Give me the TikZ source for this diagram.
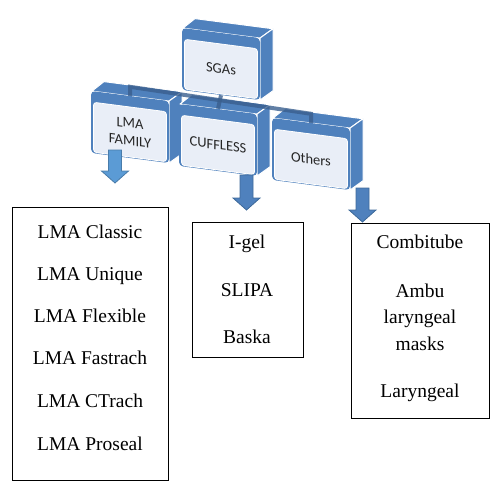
\documentclass[tikz,border=0pt]{standalone}
\usepackage{fontspec}
\setmainfont{Liberation Serif}
\newfontfamily\cubefont{Carlito}
\usetikzlibrary{calc}

\definecolor{cubeblue}{HTML}{4F81BD}
\definecolor{facelight}{HTML}{E9EEF7}
\definecolor{barblue}{HTML}{3A5F8E}
\definecolor{arrowlight}{HTML}{5B9BD5}
\definecolor{arrowedge}{HTML}{3E6A9A}

\tikzset{
  cubefront/.style={fill=cubeblue, rounded corners=4pt, minimum width=78pt,
    minimum height=62pt, inner sep=0pt, transform shape},
  cubeface/.style={fill=facelight, draw=white, line width=0.8pt, rounded corners=3pt,
    minimum width=73pt, minimum height=50pt, inner sep=0pt, align=center,
    text=black!85, font=\cubefont\fontsize{14.5}{17.5}\selectfont, transform shape},
  cubetop/.style={fill=cubeblue, draw=white, line width=1pt, line join=round},
  hierbar/.style={draw=barblue, line width=4pt, opacity=0.8},
  listbox/.style={draw=black, line width=0.8pt, inner sep=0pt},
  listitem/.style={font=\fontsize{19.5}{26.5}\selectfont, inner sep=0pt, anchor=base},
  arrowdark/.style={fill=cubeblue, draw=arrowedge, line width=0.8pt},
  arrowpale/.style={fill=arrowlight, draw=arrowlight!80!black, line width=0.8pt}
}

% one tilted box of the hierarchy
\newcommand{\sgacube}[3]{%
  \begin{scope}[shift={#2}, yslant=-0.13]
    \filldraw[cubetop] (-38,-31) -- (-26,-42) -- (52,-42) -- (39,-31) -- cycle;
    \filldraw[cubetop] (39,-31) -- (52,-42) -- (52,20) -- (39,31) -- cycle;
    \node[cubefront] (#1) at (0,0) {};
    \node[cubeface] (#1 label) at (0,5) {#3};
  \end{scope}}

% block arrow pointing down
\newcommand{\blockdown}[3]{%
  \filldraw[#1] let \p1=(#2), \p2=(#3) in
    (\x1-6.5pt,\y1) -- (\x1+6.5pt,\y1) -- (\x1+6.5pt,\y2+12pt) -- (\x1+13.5pt,\y2+12pt)
    -- (\x1,\y2) -- (\x1-13.5pt,\y2+12pt) -- (\x1-6.5pt,\y2+12pt) -- cycle;}

\begin{document}
\begin{tikzpicture}[x=1pt, y=-1pt]
  \useasboundingbox (0,0) rectangle (501,496);

  % hierarchy
  \sgacube{sgas}{(221,64)}{SGAs}
  \sgacube{lma}{(130,127)}{LMA\\FAMILY}
  \sgacube{cuffless}{(218,140)}{CUFFLESS}
  \sgacube{others}{(311,154)}{Others}
  \draw[hierbar] (lma.north) -- ++(0,-9) -- ($(others.north)+(0,-9)$) -- (others.north);
  \draw[hierbar] (sgas.south) -- (cuffless.north);

  % lists
  \node[listbox, minimum width=156pt, minimum height=273pt, anchor=north west] (lma list) at (12,207) {};
  \node[listbox, minimum width=111pt, minimum height=135pt, anchor=north west] (cuffless list) at (192,222) {};
  \node[listbox, minimum width=138pt, minimum height=195pt, anchor=north west] (others list) at (351,223) {};

  \node[listitem] (classic) at (90,238) {LMA Classic};
  \node[listitem] (unique) at (90,280) {LMA Unique};
  \node[listitem] (flexible) at (90,322) {LMA Flexible};
  \node[listitem] (fastrach) at (90,364) {LMA Fastrach};
  \node[listitem] (ctrach) at (90,407) {LMA CTrach};
  \node[listitem] (proseal) at (90,450) {LMA Proseal};

  \node[listitem] (igel) at (247,248) {I-gel};
  \node[listitem] (slipa) at (247,296) {SLIPA};
  \node[listitem] (baska) at (247,343) {Baska};

  \node[listitem] (combitube) at (420,248) {Combitube};
  \node[listitem] (ambu) at (420,297) {Ambu};
  \node[listitem] (ambu laryngeal) at (420,323.5) {laryngeal};
  \node[listitem] (ambu masks) at (420,350) {masks};
  \node[listitem] (laryngeal) at (420,397) {Laryngeal};

  % arrows
  \coordinate (lma out) at (115,150);
  \coordinate (lma in) at (115,183);
  \coordinate (cuffless out) at (246.5,175);
  \coordinate (cuffless in) at (246.5,210);
  \coordinate (others out) at (362.5,188);
  \coordinate (others in) at (362.5,222);
  \blockdown{arrowpale}{lma out}{lma in}
  \blockdown{arrowdark}{cuffless out}{cuffless in}
  \blockdown{arrowdark}{others out}{others in}
\end{tikzpicture}
\end{document}
